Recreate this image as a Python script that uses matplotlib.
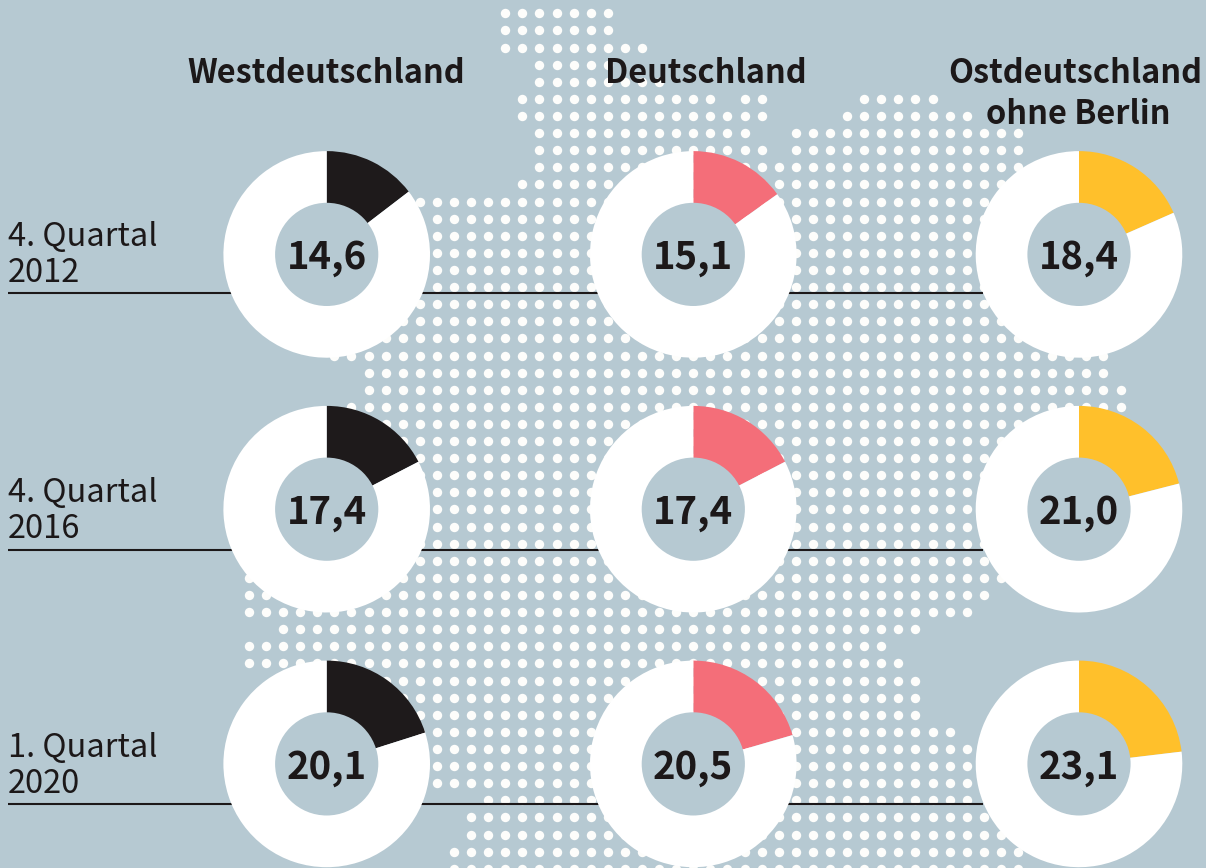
import matplotlib
matplotlib.use("Agg")
import matplotlib.pyplot as plt
from matplotlib.patches import Circle

# share of each region, one list per row
regions = ["Westdeutschland", "Deutschland", "Ostdeutschland"]
periods = [["4. Quartal", "2012"], ["4. Quartal", "2016"], ["1. Quartal", "2020"]]
west = [14.6, 17.4, 20.1]
germany = [15.1, 17.4, 20.5]
east = [18.4, 21.0, 23.1]
west_labels = ["14,6", "17,4", "20,1"]
germany_labels = ["15,1", "17,4", "20,5"]
east_labels = ["18,4", "21,0", "23,1"]

# background dot map: (row, first column, last column)
dot_spans = [
    (0, 29, 35), (1, 29, 35), (2, 29, 37), (3, 31, 35), (4, 31, 38),
    (5, 30, 41), (5, 43, 44), (5, 50, 54),
    (6, 30, 44), (6, 49, 56),
    (7, 31, 43), (7, 46, 59),
    (8, 31, 44), (8, 46, 59),
    (9, 31, 59), (10, 30, 58), (11, 24, 58), (12, 25, 58), (13, 25, 58),
    (14, 25, 58), (15, 25, 58), (16, 25, 58), (17, 24, 58), (18, 23, 59),
    (19, 21, 60), (20, 19, 64), (21, 21, 64), (22, 21, 65), (23, 20, 65),
    (24, 20, 64), (25, 20, 63), (26, 20, 62), (27, 20, 62), (28, 20, 60),
    (29, 20, 60), (30, 20, 60), (31, 20, 59), (32, 20, 57), (33, 14, 58),
    (34, 14, 57), (35, 14, 56), (36, 16, 53), (37, 14, 51), (38, 14, 52),
    (39, 20, 53), (40, 20, 53), (41, 20, 53), (42, 20, 55), (43, 20, 56),
    (44, 20, 56), (45, 25, 56), (46, 28, 56), (47, 27, 57), (48, 27, 58),
    (49, 26, 59), (50, 26, 59),
]

bg = "#b6c9d2"
ink = "#1c1819"
col_colors = ["#1e1a1b", "#f46e79", "#ffc02b"]
col_x = [326.7, 693.3, 1079]
row_y = [254.4, 509.2, 763.9]
line_y = [293.3, 550, 804.3]

plt.rcParams["font.family"] = ["Noto Sans CJK SC", "DejaVu Sans"]

fig = plt.figure(figsize=(12.06, 8.68), dpi=100, facecolor=bg)
ax = fig.add_axes([0, 0, 1, 1])

# dots
dot_x = []
dot_y = []
for row, first, last in dot_spans:
    for c in range(first, last + 1):
        dot_x.append(505.3 + 17.09 * (c - 29))
        dot_y.append(13.3 + 17.11 * row)
ax.scatter(dot_x, dot_y, s=46, color="#fdfdfb", linewidths=0, zorder=1)

# rules under the row labels
for y in line_y:
    ax.plot([7.7, 983], [y, y], color=ink, lw=1.5, zorder=2, solid_capstyle="butt")

# donuts
for i, (vals, labels) in enumerate(zip([west, germany, east],
                                       [west_labels, germany_labels, east_labels])):
    for j in range(3):
        # y axis points down, so ccw in data is clockwise on screen
        wedges, _ = ax.pie([vals[j], 100 - vals[j]], colors=[col_colors[i], "white"],
                           center=(col_x[i], row_y[j]), radius=103.3, startangle=270,
                           counterclock=True, wedgeprops={"linewidth": 0})
        for w in wedges:
            w.set_zorder(3)
        ax.add_patch(Circle((col_x[i], row_y[j]), 51.6, color=bg, lw=0, zorder=4))
        ax.text(col_x[i], row_y[j] + 14.5, labels[j], ha="center", va="baseline",
                fontsize=27.6, fontweight="bold", color=ink, zorder=5)

ax.set_xlim(0, 1206)
ax.set_ylim(868, 0)
ax.axis("off")

# headers
ax.text(326, 83, regions[0], ha="center", va="baseline", fontsize=23.4,
        fontweight="bold", color=ink, zorder=5)
ax.text(706, 83, regions[1], ha="center", va="baseline", fontsize=23.4,
        fontweight="bold", color=ink, zorder=5)
ax.text(1075, 83, regions[2], ha="center", va="baseline", fontsize=23.4,
        fontweight="bold", color=ink, zorder=5)
ax.text(1078, 124, "ohne Berlin", ha="center", va="baseline", fontsize=23.4,
        fontweight="bold", color=ink, zorder=5)

# row labels
for y, lab in zip(line_y, periods):
    ax.text(8, y - 47.5, lab[0], ha="left", va="baseline", fontsize=23.5, color=ink, zorder=5)
    ax.text(8, y - 11.5, lab[1], ha="left", va="baseline", fontsize=23.5, color=ink, zorder=5)

fig.savefig("out.png", dpi=100, facecolor=bg)
